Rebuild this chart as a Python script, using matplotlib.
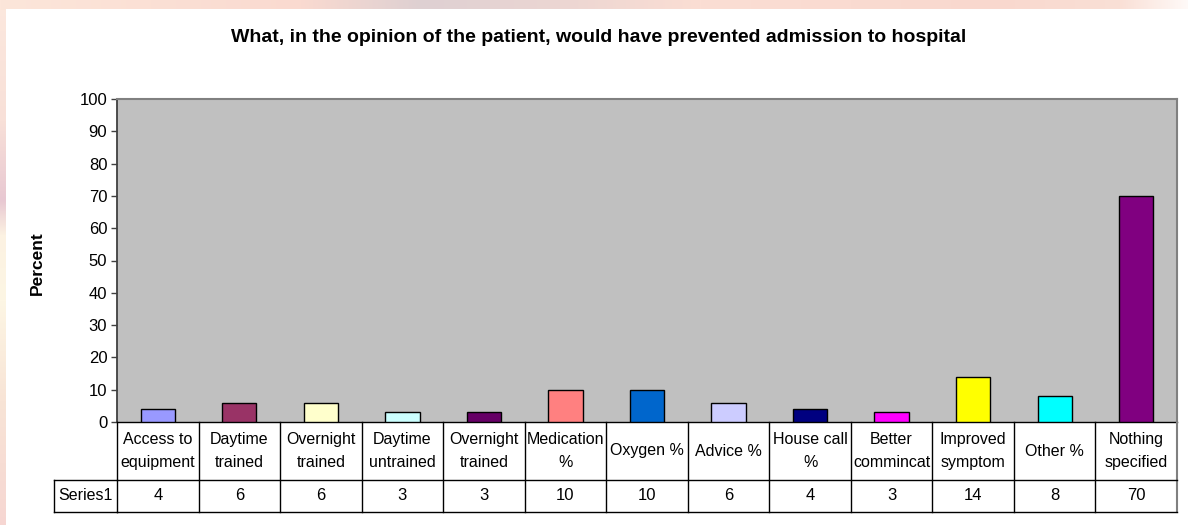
import numpy as np
import matplotlib
matplotlib.use("Agg")
import matplotlib.pyplot as plt
from matplotlib.lines import Line2D

plt.rcParams['font.family'] = ['Liberation Sans', 'DejaVu Sans']

# ---- data -------------------------------------------------------------
categories = [
    "Access to\nequipment", "Daytime\ntrained", "Overnight\ntrained",
    "Daytime\nuntrained", "Overnight\ntrained", "Medication\n%",
    "Oxygen %", "Advice %", "House call\n%", "Better\ncommincat",
    "Improved\nsymptom", "Other %", "Nothing\nspecified",
]
values = [4, 6, 6, 3, 3, 10, 10, 6, 4, 3, 14, 8, 70]
series_name = "Series1"
bar_colors = [
    "#9999FF", "#993366", "#FFFFCC", "#CCFFFF", "#660066", "#FF8080",
    "#0066CC", "#CCCCFF", "#000080", "#FF00FF", "#FFFF00", "#00FFFF",
    "#800080",
]
title = "What, in the opinion of the patient, would have prevented admission to hospital"
y_label = "Percent"
y_ticks = list(range(0, 101, 10))

# ---- figure -----------------------------------------------------------
W, H, DPI = 1188, 525, 100
fig = plt.figure(figsize=(W / DPI, H / DPI), dpi=DPI)

# soft decorative backdrop around the white panel
bg = fig.add_axes([0, 0, 1, 1], zorder=-10)
bg.set_axis_off()
xs = np.arange(W)
ys = np.arange(H)
top_pts = [0, 300, 420, 560, 700, 1000, 1120, 1188]
top_cols = np.array([[252, 230, 218], [250, 218, 208], [222, 208, 210],
                     [236, 214, 210], [251, 222, 212], [249, 216, 206],
                     [250, 224, 214], [255, 250, 248]]) / 255.0
left_pts = [0, 120, 200, 235, 300, 400, 525]
left_cols = np.array([[252, 232, 222], [248, 224, 216], [232, 200, 210],
                      [252, 242, 226], [253, 246, 228], [248, 228, 214],
                      [246, 214, 210]]) / 255.0
top_row = np.stack([np.interp(xs, top_pts, top_cols[:, c]) for c in range(3)], axis=-1)
left_col = np.stack([np.interp(ys, left_pts, left_cols[:, c]) for c in range(3)], axis=-1)
img = np.ones((H, W, 3))
img[:, :] = left_col[:, None, :]
img[:10, :] = top_row[None, :, :]
img[9:, 6:] = 1.0
bg.imshow(img, extent=[0, W, H, 0], aspect='auto', interpolation='bilinear')
bg.set_xlim(0, W)
bg.set_ylim(H, 0)

# plot area
x0, x1, yt, yb = 117, 1177, 99, 422
ax = fig.add_axes([x0 / W, 1 - yb / H, (x1 - x0) / W, (yb - yt) / H])
ax.set_facecolor("#C0C0C0")

pos = np.arange(len(categories))
ax.bar(pos, values, width=0.42, color=bar_colors, edgecolor="black",
       linewidth=1.0, zorder=3)

ax.set_xlim(-0.5, len(categories) - 0.5)
ax.set_ylim(0, 100)
ax.set_yticks(y_ticks)
ax.set_yticklabels([str(t) for t in y_ticks], fontsize=12)
ax.tick_params(axis='y', direction='out', length=4, width=1, color='#404040', pad=3)
ax.set_xticks([])

for side in ("top", "right"):
    ax.spines[side].set_color("#808080")
    ax.spines[side].set_linewidth(1.5)
ax.spines["left"].set_color("#404040")
ax.spines["left"].set_linewidth(1.3)
ax.spines["bottom"].set_color("black")
ax.spines["bottom"].set_linewidth(1.0)

fig.text(0.5 * (232 + 966) / W, 1 - 37 / H, title, ha='center', va='center',
         fontsize=14, fontweight='bold')
fig.text(37 / W, 1 - 263 / H, y_label, ha='center', va='center',
         rotation=90, fontsize=12.5, fontweight='bold')

# ---- data table under the axis ---------------------------------------
ah = yb - yt
row1 = -(480 - yb) / ah
row2 = -(512 - yb) / ah
tr = ax.get_xaxis_transform()
lk = dict(color="black", linewidth=1.0, clip_on=False, zorder=5)

n = len(categories)
for i in range(n + 1):
    xb = i - 0.5
    col = "#808080" if i == n else "black"
    ax.add_line(Line2D([xb, xb], [0, row2], transform=tr,
                       **{**lk, "color": col, "linewidth": 1.5 if i == n else 1.0}))
ax.add_line(Line2D([-0.5, n - 0.5], [row1, row1], transform=tr, **lk))
ax.add_line(Line2D([-0.5, n - 0.5], [row2, row2], transform=tr, **lk))

# series name cell
lx = (54 - x0) / (x1 - x0)
ax.add_line(Line2D([lx, 0], [row1, row1], transform=ax.transAxes, **lk))
ax.add_line(Line2D([lx, 0], [row2, row2], transform=ax.transAxes, **lk))
ax.add_line(Line2D([lx, lx], [row1, row2], transform=ax.transAxes, **lk))
ax.text(lx / 2, (row1 + row2) / 2, series_name, transform=ax.transAxes,
        ha='center', va='center', fontsize=11.5, clip_on=False)

for i, (cat, v) in enumerate(zip(categories, values)):
    ax.text(i, row1 / 2, cat, transform=tr, ha='center', va='center',
            fontsize=11.5, linespacing=1.6, clip_on=False)
    ax.text(i, (row1 + row2) / 2, str(v), transform=tr, ha='center',
            va='center', fontsize=12, clip_on=False)

fig.savefig("out.png", dpi=DPI)
